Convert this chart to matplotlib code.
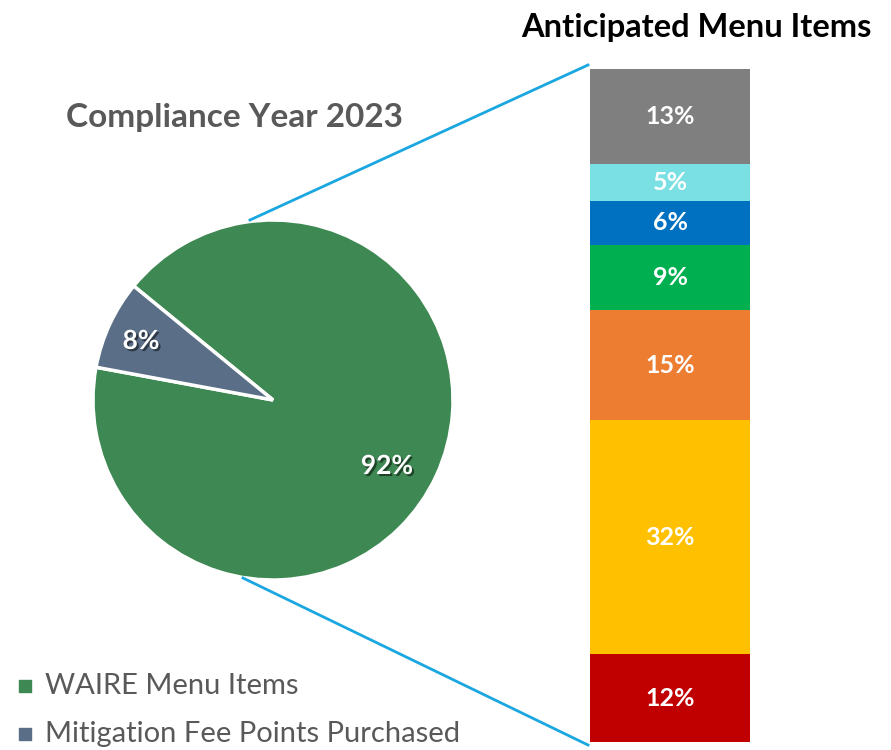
import matplotlib.pyplot as plt
import matplotlib.patheffects as pe

# pie data
pie_labels = ["WAIRE Menu Items", "Mitigation Fee Points Purchased"]
pie_values = [92, 8]
pie_colors = ["#3E8853", "#5A6F87"]

# stacked bar (bottom to top)
bar_values = [12, 32, 15, 9, 6, 5, 13]
bar_colors = ["#C00000", "#FFC000", "#ED7D31", "#00B050", "#0070C0", "#7AE0E3", "#7F7F7F"]

W, H = 891, 750
fig = plt.figure(figsize=(W / 100, H / 100), dpi=100)
ax = fig.add_axes([0, 0, 1, 1])

FONT = "Lato"
shadow = [pe.withSimplePatchShadow(offset=(1.5, -1.5), alpha=0.5, shadow_rgbFace="black")]

ax.pie(pie_values, colors=pie_colors, startangle=169.5, center=(273, 350),
       radius=180, wedgeprops=dict(edgecolor="white", linewidth=2.5), frame=True)
ax.set_xlim(0, W)
ax.set_ylim(0, H)
ax.set_aspect("equal")
ax.axis("off")

ax.text(387, 750 - 466, "92%", color="white", fontsize=19, fontweight="bold", family=FONT,
        ha="center", va="center", path_effects=shadow)
ax.text(141, 750 - 341, "8%", color="white", fontsize=19, fontweight="bold", family=FONT,
        ha="center", va="center", path_effects=shadow)

ax.text(235, 750 - 118, "Compliance Year 2023", color="#595959", fontsize=24, fontweight="bold",
        family=FONT, ha="center", va="center")
ax.text(696, 750 - 28, "Anticipated Menu Items", color="black", fontsize=23.5, fontweight="bold",
        family=FONT, ha="center", va="center")

# connector lines
ax.plot([250, 588], [750 - 220, 750 - 65], color="#1AA7E0", lw=2)
ax.plot([243, 588], [750 - 578, 750 - 745], color="#1AA7E0", lw=2)

# legend
for i, (lab, col) in enumerate(zip(pie_labels, pie_colors)):
    y = 750 - (686 + 48 * i)
    ax.scatter([25], [y], marker="s", s=70, color=col)
    ax.text(45, y, lab, color="#595959", fontsize=21, family=FONT, va="center", ha="left")

# stacked bar
bax = fig.add_axes([590 / W, (750 - 742) / H, 160 / W, (742 - 69) / H])
bottom = 0
for v, c in zip(bar_values, bar_colors):
    bax.bar(0, v, bottom=bottom, width=1, color=c)
    bax.text(0, bottom + v / 2, f"{v}%", color="white", fontsize=18, fontweight="bold",
             family=FONT, ha="center", va="center")
    bottom += v
bax.set_xlim(-0.5, 0.5)
bax.set_ylim(0, sum(bar_values))
bax.axis("off")

fig.savefig("out.png", dpi=100)
